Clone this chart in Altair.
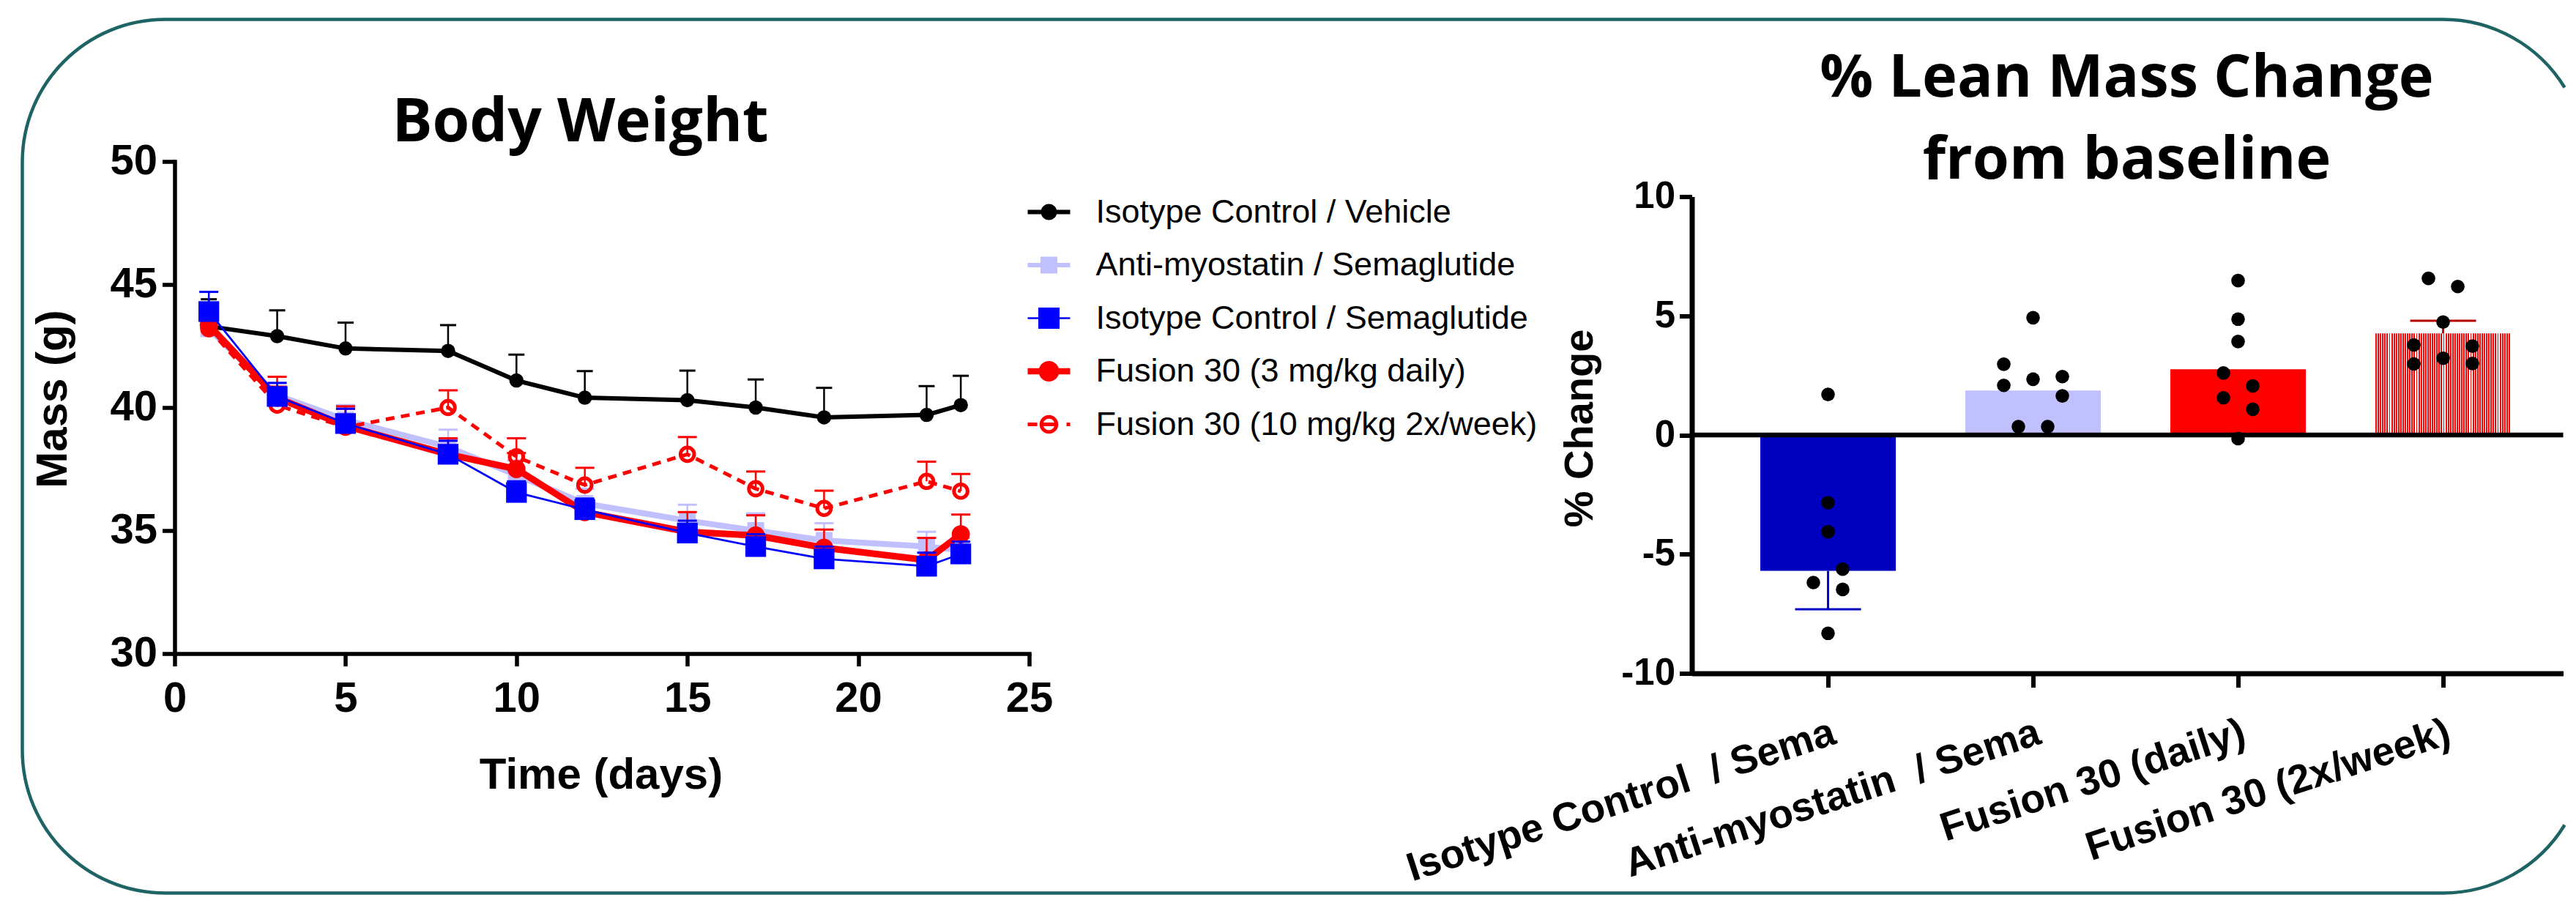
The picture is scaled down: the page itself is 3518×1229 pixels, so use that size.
import altair as alt
import pandas as pd

# ---------------- data ----------------
days = [1, 3, 5, 8, 10, 12, 15, 17, 19, 22, 23]

series_names = [
    "Isotype Control / Vehicle",
    "Anti-myostatin / Semaglutide",
    "Isotype Control / Semaglutide",
    "Fusion 30 (3 mg/kg daily)",
    "Fusion 30 (10 mg/kg 2x/week)",
]

iso_vehicle_mean = [43.3, 42.9, 42.4, 42.3, 41.1, 40.4, 40.3, 40.0, 39.6, 39.7, 40.1]
iso_vehicle_sem = [1.1, 1.05, 1.05, 1.05, 1.05, 1.08, 1.2, 1.14, 1.2, 1.17, 1.19]
antimyo_sema_mean = [43.2, 40.5, 39.5, 38.4, 37.25, 36.1, 35.4, 35.0, 34.6, 34.35, 34.2]
antimyo_sema_sem = [0.5, 0.5, 0.6, 0.7, 0.6, 0.6, 0.65, 0.7, 0.7, 0.6, 0.5]
iso_sema_mean = [43.9, 40.45, 39.35, 38.1, 36.55, 35.85, 34.9, 34.35, 33.85, 33.55, 34.05]
iso_sema_sem = [0.8, 0.55, 0.6, 0.55, 0.45, 0.45, 0.5, 0.5, 0.5, 0.55, 0.5]
fusion_daily_mean = [43.35, 40.4, 39.25, 38.1, 37.5, 35.75, 34.95, 34.8, 34.3, 33.8, 34.85]
fusion_daily_sem = [0.45, 0.85, 0.7, 0.65, 0.65, 0.5, 0.8, 0.82, 0.74, 0.9, 0.8]
fusion_2x_mean = [43.2, 40.1, 39.2, 40.0, 38.0, 36.85, 38.1, 36.7, 35.9, 37.0, 36.6]
fusion_2x_sem = [0.4, 0.75, 0.85, 0.7, 0.75, 0.7, 0.7, 0.7, 0.72, 0.8, 0.7]

series_means = [iso_vehicle_mean, antimyo_sema_mean, iso_sema_mean, fusion_daily_mean, fusion_2x_mean]
series_sems = [iso_vehicle_sem, antimyo_sema_sem, iso_sema_sem, fusion_daily_sem, fusion_2x_sem]

bar_categories = [
    "Isotype Control\u00a0 / Sema",
    "Anti-myostatin\u00a0 / Sema",
    "Fusion 30 (daily)",
    "Fusion 30 (2x/week)",
]
bar_means = [-5.7, 1.87, 2.76, 4.26]
bar_sems = [1.61, None, None, 0.53]

dots_iso = [1.7, -2.84, -4.06, -5.63, -6.19, -6.48, -8.32]
slots_iso = [0, 0, 0, 1, -1, 1, 0]
dots_anti = [4.92, 2.97, 2.08, 2.34, 2.45, 1.64, 0.35, 0.35]
slots_anti = [0, -2, -2, 0, 2, 2, -1, 1]
dots_daily = [6.48, 4.86, 3.92, 2.6, 2.06, 1.56, 1.08, -0.15]
slots_daily = [0, 0, 0, -1, 1, -1, 1, 0]
dots_2x = [6.57, 6.23, 4.74, 3.78, 3.73, 3.22, 2.98, 3.0]
slots_2x = [-1, 1, 0, -2, 2, 0, -2, 2]

dots_all = [dots_iso, dots_anti, dots_daily, dots_2x]
slots_all = [slots_iso, slots_anti, slots_daily, slots_2x]

# ---------------- styles ----------------
FONT = "Liberation Sans"
TITLE_FONT = "Open Sans"
TEAL = "#1E6464"

line_colors = ["#000000", "#C0C0FF", "#0000FF", "#FF0000", "#FF0000"]
line_widths = [6, 8, 2.7, 9, 5]
line_dashes = [None, None, None, None, [12, 9]]
marker_shapes = ["circle", "square", "square", "circle", "circle"]
marker_sizes = [380, 530, 800, 616, 346]
marker_filled = [True, True, True, True, False]
cap_widths = [22, 26, 26, 26, 26]
draw_order = [0, 1, 4, 3, 2]

bar_colors = ["#0000C0", "#C0C0FF", "#FF0000"]
err_colors = ["#0000C0", None, None, "#B40000"]


def f(v):
    return f"{v:.4f}".rstrip("0").rstrip(".")


def hbar(x0, x1, h):
    return f"M{f(x0)},{f(-h)}H{f(x1)}V{f(h)}H{f(x0)}Z"


def circ(r, sweep=1):
    return (f"M{f(r)},0A{f(r)} {f(r)} 0 1 {sweep} {f(-r)} 0"
            f"A{f(r)} {f(r)} 0 1 {sweep} {f(r)} 0Z")


def sq(h):
    return f"M{f(-h)},{f(-h)}H{f(h)}V{f(h)}H{f(-h)}Z"


# legend symbols (unit = 29 px)
legend_paths = [
    hbar(-1, 1, 0.1034) + circ(0.3793),
    hbar(-1, 1, 0.1034) + sq(0.3966),
    hbar(-1, 1, 0.0466) + sq(0.5),
    hbar(-1, 1, 0.15) + circ(0.4828),
    hbar(-1, -0.55, 0.086) + circ(0.44) + circ(0.27, 0) + hbar(-0.3, 0.3, 0.086) + hbar(0.83, 1, 0.086),
]

# rounded frame (pixel units relative to the left plot origin), cut at the page's right edge
border_path = (
    "M3264,-101A195 195 0 0 0 3098,-194H-13A195 195 0 0 0 -208,1V804"
    "A195 195 0 0 0 -13,999H3098A195 195 0 0 0 3264,906"
)

# ---------------- left: body weight ----------------
xs = alt.Scale(domain=[0, 25], nice=False, zero=False)
ys = alt.Scale(domain=[30, 50], nice=False, zero=False)
x_axis = alt.Axis(
    values=[0, 5, 10, 15, 20, 25], title="Time (days)", grid=False,
    labelFont=FONT, labelFontSize=58, labelFontWeight="bold", labelColor="black",
    labelPadding=16, labelFlush=False, tickSize=17, tickWidth=5.5, tickColor="black",
    domainColor="black", domainWidth=5.5, domainCap="square",
    titleFont=FONT, titleFontSize=60, titleFontWeight="bold", titleColor="black",
    titleX=582, titleY=184, titleBaseline="alphabetic", titleAlign="center",
)
y_axis = alt.Axis(
    values=[30, 35, 40, 45, 50], title="Mass (g)", grid=False,
    labelFont=FONT, labelFontSize=58, labelFontWeight="bold", labelColor="black",
    labelPadding=7, labelFlush=False, tickSize=17, tickWidth=5.5, tickColor="black",
    domainColor="black", domainWidth=5.5, domainCap="square",
    titleFont=FONT, titleFontSize=60, titleFontWeight="bold", titleColor="black",
    titleX=-148, titleY=324, titleBaseline="alphabetic", titleAlign="center", titleAngle=-90,
)
X = alt.X("day:Q", scale=xs, axis=x_axis)
Y = alt.Y("mass:Q", scale=ys, axis=y_axis)

left_layers = [
    alt.Chart(pd.DataFrame({"k": [0]})).mark_point(
        shape=border_path, size=4, filled=False, stroke=TEAL, strokeWidth=4.5,
        strokeJoin="round", opacity=1
    ).encode(x=alt.value(0), y=alt.value(0))
]

frames = []
for i in draw_order:
    c = line_colors[i]
    df = pd.DataFrame({
        "day": days,
        "mass": series_means[i],
        "top": [m + s for m, s in zip(series_means[i], series_sems[i])],
        "series": series_names[i],
    })
    frames.append(df)
    base = alt.Chart(df)
    left_layers.append(base.mark_rule(color=c, strokeWidth=2.5).encode(x=X, y=Y, y2="top:Q"))
    left_layers.append(
        base.mark_point(shape="M-1,0H1", size=cap_widths[i] ** 2, filled=False,
                        stroke=c, strokeWidth=3, opacity=1)
        .encode(x=X, y=alt.Y("top:Q", scale=ys, axis=y_axis))
    )
    lk = dict(color=c, strokeWidth=line_widths[i])
    if line_dashes[i]:
        lk["strokeDash"] = line_dashes[i]
    left_layers.append(base.mark_line(**lk).encode(x=X, y=Y))
    if marker_filled[i]:
        pm = base.mark_point(shape=marker_shapes[i], size=marker_sizes[i], filled=True,
                             color=c, strokeWidth=0, opacity=1)
    else:
        pm = base.mark_point(shape=marker_shapes[i], size=marker_sizes[i], filled=False,
                             stroke=c, strokeWidth=5, opacity=1)
    left_layers.append(pm.encode(x=X, y=Y))

leg = alt.Legend(
    orient="none", legendX=1165, legendY=40, title=None, padding=0,
    labelFont=FONT, labelFontSize=45, labelColor="black", labelLimit=2000,
    labelOffset=35, rowPadding=20.5, symbolSize=3364, symbolStrokeWidth=0, symbolOpacity=1,
)
legend_layer = alt.Chart(pd.concat(frames)).mark_point(filled=True, opacity=0, strokeWidth=0).encode(
    x=X, y=Y,
    fill=alt.Fill("series:N", scale=alt.Scale(domain=series_names, range=line_colors), legend=leg),
    shape=alt.Shape("series:N", scale=alt.Scale(domain=series_names, range=legend_paths), legend=leg),
)
left_layers.append(legend_layer)

left = alt.layer(*left_layers).properties(
    width=1167, height=672,
    title=alt.TitleParams(
        "Body Weight", font=TITLE_FONT, fontSize=82, fontWeight="bold", color="black",
        anchor="middle", frame="group", baseline="top", offset=0, dx=-29.5, dy=185.5,
    ),
)

# ---------------- right: % lean mass change ----------------
RW, RH = 1190, 699
xb_axis = alt.Axis(
    title=None, grid=False, labelAngle=-18, labelFont=FONT, labelFontSize=55,
    labelFontWeight="bold", labelColor="black", labelPadding=35, labelLimit=2000,
    tickSize=19, tickWidth=6, tickColor="black", domainColor="black", domainWidth=7,
)
yb_axis = alt.Axis(
    values=[-10, -5, 0, 5, 10], labelExpr="datum.value", title="% Change", grid=False,
    labelFont=FONT, labelFontSize=51, labelFontWeight="bold", labelColor="black",
    labelPadding=6, labelFlush=False, tickSize=17, tickWidth=6, tickColor="black",
    domainColor="black", domainWidth=7,
    titleFont=FONT, titleFontSize=56, titleFontWeight="bold", titleColor="black",
    titleX=-136, titleY=364, titleBaseline="alphabetic", titleAlign="center", titleAngle=-90,
)
xband = alt.Scale(domain=bar_categories, paddingInner=0.339, paddingOuter=0.2945, align=0.567)
yscale_r = alt.Scale(domain=[-10, 10], range=[RH, 48], nice=False, zero=False)
XB = alt.X("cat:N", sort=bar_categories, scale=xband, axis=xb_axis)


def YB(field):
    return alt.Y(field, scale=yscale_r, axis=yb_axis)


bar_df = pd.DataFrame({"cat": bar_categories, "mean": bar_means})
right_layers = [
    alt.Chart(bar_df.iloc[:3]).mark_bar().encode(
        x=XB, y=YB("mean:Q"), y2=alt.datum(0),
        color=alt.Color("cat:N", scale=alt.Scale(domain=bar_categories[:3], range=bar_colors), legend=None),
    )
]

# checker-like red/white fill for the 2x/week bar
stops = []
n_str = 60
for k in range(n_str):
    a, b, c2 = k / n_str, (k + 0.62) / n_str, (k + 1) / n_str
    stops += [
        alt.GradientStop(offset=a, color="#FF0000"),
        alt.GradientStop(offset=b, color="#FF0000"),
        alt.GradientStop(offset=b, color="#FFFFFF"),
        alt.GradientStop(offset=c2, color="#FFFFFF"),
    ]
checker = alt.Gradient(gradient="linear", stops=stops, x1=0, x2=1, y1=0, y2=0)
right_layers.append(
    alt.Chart(bar_df.iloc[3:]).mark_bar(color=checker).encode(x=XB, y=YB("mean:Q"), y2=alt.datum(0))
)

right_layers.append(
    alt.Chart(pd.DataFrame({"z": [0]})).mark_rule(color="black", strokeWidth=6.5).encode(y=YB("z:Q"))
)

for j, (m, s) in enumerate(zip(bar_means, bar_sems)):
    if s is None:
        continue
    end = m - s if m < 0 else m + s
    edf = pd.DataFrame({"cat": [bar_categories[j]], "mean": [m], "end": [end]})
    right_layers.append(
        alt.Chart(edf).mark_rule(color=err_colors[j], strokeWidth=3).encode(x=XB, y=YB("mean:Q"), y2="end:Q")
    )
    right_layers.append(
        alt.Chart(edf).mark_point(shape="M-1,0H1", size=90 ** 2, filled=False,
                                  stroke=err_colors[j], strokeWidth=3, opacity=1)
        .encode(x=XB, y=YB("end:Q"))
    )

dot_rows = []
for j, (vals, sl) in enumerate(zip(dots_all, slots_all)):
    for v, s in zip(vals, sl):
        dot_rows.append({"cat": bar_categories[j], "value": v, "slot": s})
dot_df = pd.DataFrame(dot_rows)
right_layers.append(
    alt.Chart(dot_df).mark_point(shape="circle", filled=True, color="black", size=346,
                                 strokeWidth=0, opacity=1).encode(
        x=XB,
        xOffset=alt.XOffset("slot:Q", scale=alt.Scale(domain=[-2, 2], range=[52.5, 132.5])),
        y=YB("value:Q"),
    )
)

right = alt.layer(*right_layers).resolve_scale(xOffset="independent").properties(
    width=RW, height=RH,
    title=alt.TitleParams(
        ["% Lean Mass Change", "from baseline"], font=TITLE_FONT, fontSize=81,
        fontWeight="bold", color="black", anchor="middle", frame="group",
        baseline="top", offset=0, lineHeight=112, dx=-1, dy=40,
    ),
)

chart = (
    alt.hconcat(left, right, spacing=905, bounds="flush")
    .resolve_scale(fill="independent", shape="independent", color="independent")
    .properties(padding={"left": 19.5, "top": 15.5, "right": 0, "bottom": 0})
    .configure_view(strokeWidth=0)
)

chart.save("out.html", embed_options={"renderer": "svg", "actions": False})
